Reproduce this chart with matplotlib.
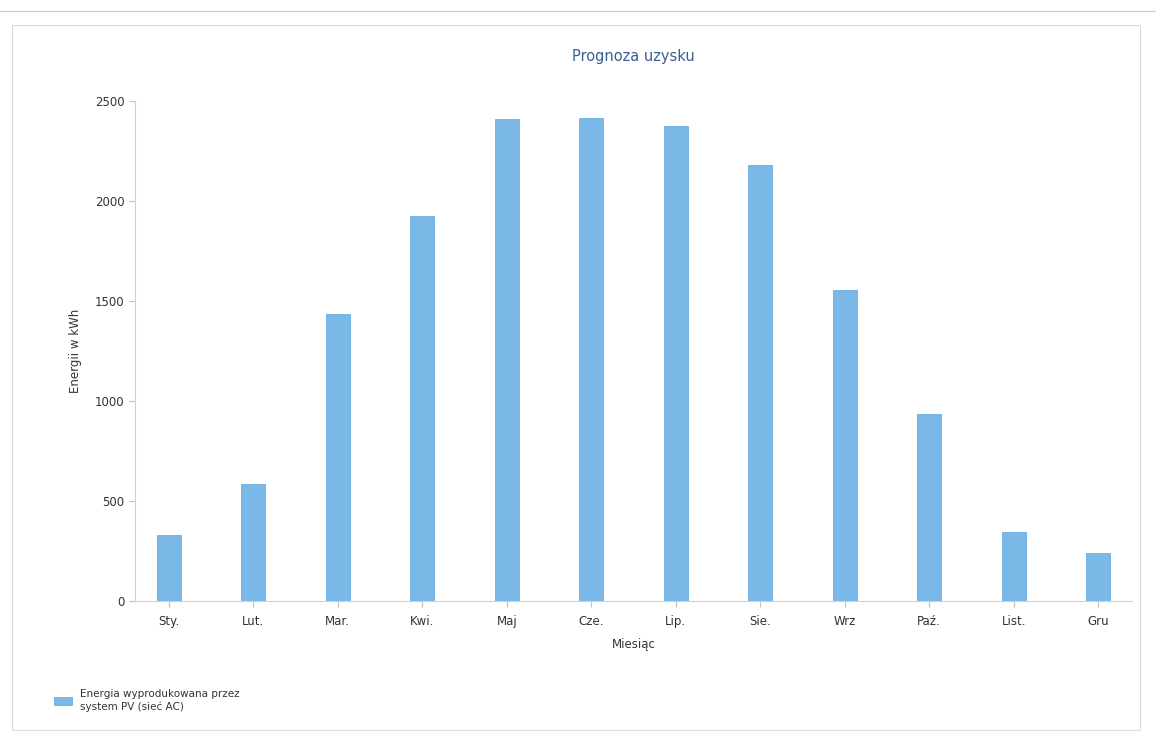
import matplotlib
matplotlib.use("Agg")
import matplotlib.pyplot as plt
from matplotlib.patches import Rectangle
from matplotlib.lines import Line2D

months = ["Sty.", "Lut.", "Mar.", "Kwi.", "Maj", "Cze.", "Lip.", "Sie.", "Wrz", "Paź.", "List.", "Gru"]
energy = [330, 585, 1435, 1925, 2410, 2415, 2375, 2180, 1555, 935, 345, 240]
yticks = [0, 500, 1000, 1500, 2000, 2500]

plt.rcParams['font.family'] = ['DejaVu Sans']
fig = plt.figure(figsize=(11.56, 7.34), dpi=100)
fig.patch.set_facecolor('white')

# outer frame lines
fig.add_artist(Line2D([0.0, 1.0], [1 - 11/734, 1 - 11/734], color='#c8c8c8', lw=0.8, transform=fig.transFigure))
fig.add_artist(Rectangle((12/1156, 4/734), (1140-12)/1156, (705)/734, fill=False,
                         edgecolor='#dcdcdc', lw=0.8, transform=fig.transFigure))

ax = fig.add_axes([135/1156, 1 - 601/734, (1132-135)/1156, (601-101)/734])
x = list(range(len(months)))
bars = ax.bar(x, energy, width=0.28, color='#7ab8e8', edgecolor='#6aaee2', linewidth=0.6,
              label='Energia wyprodukowana przez\nsystem PV (sieć AC)')

ax.set_xlim(-0.4, 11.4)
ax.set_ylim(0, 2500)
ax.set_yticks(yticks)
ax.set_xticks(x)
ax.set_xticklabels(months)
for s in ['top', 'right']:
    ax.spines[s].set_visible(False)
for s in ['left', 'bottom']:
    ax.spines[s].set_color('#d0d0d0')
    ax.spines[s].set_linewidth(0.8)
ax.tick_params(axis='both', colors='#c0c0c0', labelcolor='#333333', labelsize=8.5, length=4, width=0.8)
ax.tick_params(axis='x', pad=6)

ax.set_title('Prognoza uzysku', color='#3b5d93', fontsize=10.5, pad=29)
ax.set_xlabel('Miesiąc', fontsize=8.5, color='#333333', labelpad=7)
ax.set_ylabel('Energii w kWh', fontsize=8.5, color='#333333', labelpad=9)

fig.legend(handles=[bars], loc='lower left', bbox_to_anchor=(45/1156, 1 - 721/734),
           frameon=False, fontsize=7.5, handlelength=1.7, handleheight=0.9,
           labelcolor='#333333')

fig.savefig('out.png', dpi=100, facecolor='white')
